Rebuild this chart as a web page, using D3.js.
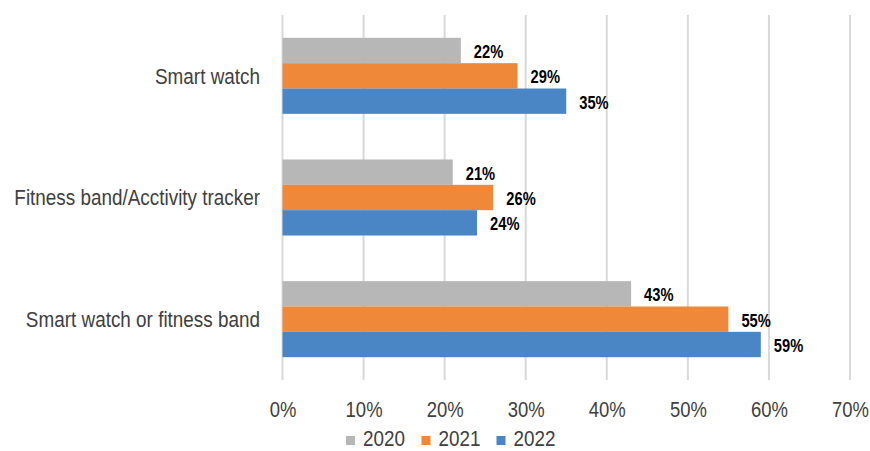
<!DOCTYPE html>
<html>
<head>
<meta charset="utf-8">
<script src="https://cdn.jsdelivr.net/npm/d3@7"></script>
<style>
  html, body { margin: 0; padding: 0; background: #ffffff; }
  svg { display: block; font-family: "Liberation Sans", Arial, sans-serif; }
</style>
</head>
<body>
<svg id="chart" width="870" height="451"></svg>
<script>
// Wearable device ownership by year
const categories = ["Smart watch", "Fitness band/Acctivity tracker", "Smart watch or fitness band"];
const seriesNames = ["2020", "2021", "2022"];
const values2020 = [22, 21, 43];
const values2021 = [29, 26, 55];
const values2022 = [35, 24, 59];
const tickValues = [0, 10, 20, 30, 40, 50, 60, 70];
const seriesColors = ["#B7B7B7", "#F0883A", "#4A86C5"];

const series = [values2020, values2021, values2022];
const FONT = "'Liberation Sans', Arial, sans-serif";
const NARROW = 0.84; // condensed lettering, like a narrow face

const svg = d3.select("#chart");
const margin = { left: 282.5, right: 20, top: 15, bottom: 71 };
const W = 870, H = 451;

const x = d3.scaleLinear().domain([0, 70]).range([margin.left, 850]);
const y = d3.scaleBand().domain(categories).range([margin.top, H - margin.bottom])
  .paddingInner(0.375).paddingOuter(0.1875);
const ySub = d3.scaleBand().domain(seriesNames).range([0, y.bandwidth()]);
const color = d3.scaleOrdinal().domain(seriesNames).range(seriesColors);

// vertical gridlines
svg.append("g")
  .selectAll("line")
  .data(tickValues)
  .join("line")
  .attr("x1", d => x(d)).attr("x2", d => x(d))
  .attr("y1", margin.top).attr("y2", H - margin.bottom)
  .attr("stroke", "#D9D9D9")
  .attr("stroke-width", 2);

// x axis tick labels
const xAxis = d3.axisBottom(x).tickValues(tickValues).tickSize(0).tickPadding(0)
  .tickFormat(d => d + "%");
const gx = svg.append("g").attr("transform", `translate(0, ${H - margin.bottom})`).call(xAxis);
gx.select(".domain").remove();
gx.selectAll("text")
  .attr("y", null).attr("dy", null)
  .attr("transform", `translate(0, 36.5) scale(${NARROW}, 1)`)
  .attr("fill", "#404040")
  .style("font-size", "22px")
  .style("font-family", FONT);

// category labels
const yAxis = d3.axisLeft(y).tickSize(0).tickPadding(0);
const gy = svg.append("g").attr("transform", "translate(260, 0)").call(yAxis);
gy.select(".domain").remove();
gy.selectAll("text")
  .attr("x", null)
  .attr("dy", "0.35em")
  .attr("transform", `scale(${NARROW}, 1)`)
  .attr("fill", "#404040")
  .style("font-size", "22.5px")
  .style("font-family", FONT);

// bars
const groups = svg.append("g")
  .selectAll("g")
  .data(categories)
  .join("g")
  .attr("transform", d => `translate(0, ${y(d)})`);

const cells = groups.selectAll("g")
  .data((c, i) => seriesNames.map((s, j) => ({ cat: c, series: s, value: series[j][i] })))
  .join("g");

cells.append("rect")
  .attr("x", x(0))
  .attr("y", d => ySub(d.series))
  .attr("width", d => x(d.value) - x(0))
  .attr("height", ySub.bandwidth())
  .attr("fill", d => color(d.series));

// value labels
cells.append("text")
  .attr("transform", d =>
    `translate(${x(d.value) + 13}, ${ySub(d.series) + ySub.bandwidth() / 2 + 1.5}) scale(${NARROW}, 1)`)
  .attr("dy", "0.35em")
  .attr("fill", "#000000")
  .style("font-size", "17.5px")
  .style("font-weight", "bold")
  .style("font-family", FONT)
  .text(d => d.value + "%");

// legend
const legendX = [346, 421.5, 496.5];
const legend = svg.append("g")
  .selectAll("g")
  .data(seriesNames)
  .join("g")
  .attr("transform", (d, i) => `translate(${legendX[i]}, 436)`);
legend.append("rect")
  .attr("width", 9).attr("height", 9)
  .attr("fill", d => color(d));
legend.append("text")
  .attr("transform", `translate(17, 10) scale(${NARROW}, 1)`)
  .attr("fill", "#404040")
  .style("font-size", "22.5px")
  .style("font-family", FONT)
  .text(d => d);
</script>
</body>
</html>
